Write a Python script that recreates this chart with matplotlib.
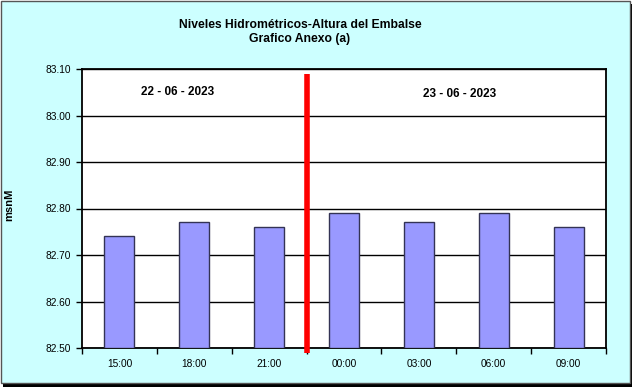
import matplotlib
matplotlib.use("Agg")
import matplotlib.pyplot as plt
from matplotlib.patches import Rectangle

plt.rcParams['font.family'] = ['Liberation Sans', 'DejaVu Sans']

categories = ["15:00", "18:00", "21:00", "00:00", "03:00", "06:00", "09:00"]
values = [82.74, 82.77, 82.76, 82.79, 82.77, 82.79, 82.76]
yticks = [82.50, 82.60, 82.70, 82.80, 82.90, 83.00, 83.10]
title = "Niveles Hidrométricos-Altura del Embalse\nGrafico Anexo (a)"
date1 = "22 - 06 - 2023"
date2 = "23 - 06 - 2023"
divider_x = 2.5
divider_top = 83.09
divider_bottom = 82.49

W, H = 633, 387
fig = plt.figure(figsize=(W / 100, H / 100), dpi=100)
fig.patch.set_facecolor('white')

# shadow and frame
fig.patches.append(Rectangle((3 / W, 0), 629 / W, 383 / H, transform=fig.transFigure,
                             facecolor='black', edgecolor='none', zorder=-2))
fig.patches.append(Rectangle((0.5 / W, 4 / H), 629 / W, 382.5 / H, transform=fig.transFigure,
                             facecolor='#CCFFFF', edgecolor='#555555', linewidth=1, zorder=-1))

ax = fig.add_axes([82 / W, (H - 348) / H, 524 / W, 279 / H])
ax.set_facecolor('white')
x = list(range(len(categories)))
ax.bar(x, [v - yticks[0] for v in values], bottom=yticks[0], width=0.4,
       color='#9999FF', edgecolor='#333355', linewidth=1, zorder=3)

ax.set_xlim(-0.5, len(categories) - 0.5)
ax.set_ylim(yticks[0], yticks[-1])
ax.set_yticks(yticks)
ax.set_yticklabels([f"{t:.2f}" for t in yticks], fontsize=7.3)
ax.set_xticks(x)
ax.set_xticklabels(categories, fontsize=7.3)
ax.tick_params(axis='x', length=0, pad=8)
ax.set_xticks([i - 0.5 for i in range(len(categories) + 1)], minor=True)
ax.tick_params(axis='x', which='minor', length=4, width=1, direction='out')
ax.tick_params(axis='y', length=4, width=1, direction='out', pad=4)
ax.grid(axis='y', color='black', linewidth=1, zorder=1)
ax.set_axisbelow(True)
for s in ax.spines.values():
    s.set_linewidth(1.3)
    s.set_color('black')

ax.plot([divider_x, divider_x], [divider_bottom, divider_top], color='#FF0000',
        linewidth=4, solid_capstyle='butt', clip_on=False, zorder=5)

ax.text(0.77, 83.051, date1, fontsize=8.5, fontweight='bold', ha='center', va='center')
ax.text(4.55, 83.046, date2, fontsize=8.5, fontweight='bold', ha='center', va='center')

ax.set_ylabel("msnM", fontsize=8, fontweight='bold', labelpad=0)
ax.yaxis.set_label_coords(-68 / 524, 0.515)

fig.text(300 / W, 1 - 32 / H, title, fontsize=8.7, fontweight='bold', ha='center',
         va='center', linespacing=1.15)

fig.savefig("out.png", dpi=100)
